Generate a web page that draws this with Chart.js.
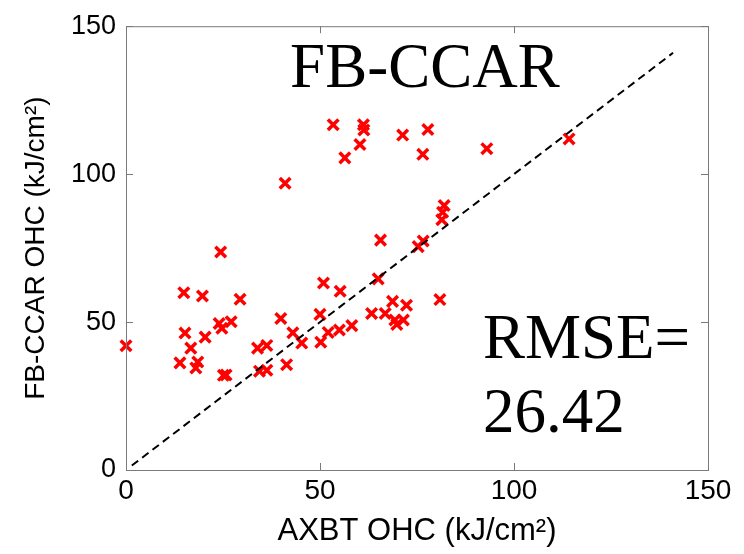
<!DOCTYPE html>
<html>
<head>
<meta charset="utf-8">
<script src="https://cdn.jsdelivr.net/npm/chart.js@4.4.1/dist/chart.umd.min.js"></script>
<style>
  body { margin: 0; background: #fff; }
  canvas { display: block; }
</style>
</head>
<body>
<canvas id="ohcChart" width="744" height="554"></canvas>
<script>
// AXBT OHC vs FB-CCAR OHC, kJ/cm^2
const axbtOhc = [53.4, 61.2, 61.3, 60.3, 56.4, 71.3, 77.8, 76.5, 93.0, 114.2,
    41.0, 82.0, 81.6, 81.4, 76.6, 75.3, 80.9, 0, 24.4, 14.9,
    19.7, 29.4, 15.2, 20.4, 16.7, 24.0, 24.7, 27.1, 13.9, 18.5,
    18.0, 25.1, 25.8, 33.9, 36.3, 34.4, 36.3, 39.9, 43.0, 45.3,
    41.4, 50.9, 55.2, 65.0, 50.0, 50.2, 52.1, 55.0, 58.2, 63.3,
    66.8, 68.7, 72.3, 69.3, 71.5, 69.8, 65.6];
const fbCcarOhc = [116.7, 116.7, 114.9, 110.0, 105.5, 113.2, 115.1, 106.7, 108.6, 111.9,
    96.9, 89.4, 87.1, 84.6, 77.4, 75.5, 57.6, 42.0, 73.7, 59.9,
    58.8, 57.7, 46.3, 44.9, 41.2, 49.5, 47.9, 50.1, 36.2, 36.5,
    34.5, 32.0, 32.1, 41.2, 42.1, 33.4, 33.7, 51.2, 46.4, 42.9,
    35.6, 63.2, 60.4, 64.6, 52.6, 43.2, 46.5, 47.3, 48.8, 52.9,
    52.9, 57.0, 55.7, 50.7, 50.7, 49.2, 77.7];
const oneToOne = [1.5, 141];
const xTicks = [0, 50, 100, 150];
const yTicks = [0, 50, 100, 150];

const points = axbtOhc.map((x, i) => ({ x: x, y: fbCcarOhc[i] }));
const diagonal = oneToOne.map(v => ({ x: v, y: v }));

// MATLAB-style box with inward ticks on all four sides
const boxPlugin = {
    id: 'boxPlugin',
    afterDatasetsDraw(chart) {
        const { ctx, chartArea: a, scales: { x, y } } = chart;
        ctx.save();
        ctx.strokeStyle = '#7a7a7a';
        ctx.lineWidth = 1;
        ctx.strokeRect(a.left + 0.5, a.top + 0.5, a.right - a.left, a.bottom - a.top);
        ctx.beginPath();
        xTicks.forEach(v => {
            const px = Math.round(x.getPixelForValue(v)) + 0.5;
            ctx.moveTo(px, a.bottom); ctx.lineTo(px, a.bottom - 7);
            ctx.moveTo(px, a.top); ctx.lineTo(px, a.top + 7);
        });
        yTicks.forEach(v => {
            const py = Math.round(y.getPixelForValue(v)) + 0.5;
            ctx.moveTo(a.left, py); ctx.lineTo(a.left + 7, py);
            ctx.moveTo(a.right, py); ctx.lineTo(a.right - 7, py);
        });
        ctx.stroke();
        ctx.restore();
    }
};

// big text labels inside the axes
const notes = [
    { text: 'FB-CCAR', x: 42.3, y: 129.3 },
    { text: 'RMSE=', x: 92.0, y: 37.8 },
    { text: '26.42', x: 92.0, y: 12.8 }
];
const notesPlugin = {
    id: 'notesPlugin',
    afterDraw(chart) {
        const { ctx, scales: { x, y } } = chart;
        ctx.save();
        ctx.fillStyle = '#000';
        ctx.font = '63px "Liberation Serif", serif';
        ctx.textAlign = 'left';
        ctx.textBaseline = 'alphabetic';
        notes.forEach(n => {
            ctx.fillText(n.text, x.getPixelForValue(n.x), y.getPixelForValue(n.y));
        });
        ctx.restore();
    }
};

function createOhcChart() {
    const ctx = document.getElementById('ohcChart').getContext('2d');
    new Chart(ctx, {
        type: 'scatter',
        data: {
            datasets: [{
                type: 'line',
                data: diagonal,
                borderColor: '#000',
                borderWidth: 2,
                borderDash: [8, 5],
                pointRadius: 0,
                fill: false,
                order: 0
            }, {
                data: points,
                pointStyle: 'crossRot',
                pointRadius: 7.5,
                pointBorderWidth: 3.5,
                borderColor: '#ff0000',
                backgroundColor: '#ff0000',
                clip: false,
                order: 1
            }]
        },
        options: {
            responsive: false,
            animation: false,
            layout: { padding: { left: 0, top: 21, right: 36, bottom: 0 } },
            plugins: {
                legend: { display: false },
                tooltip: { enabled: false }
            },
            scales: {
                x: {
                    type: 'linear',
                    min: 0,
                    max: 150,
                    afterBuildTicks: s => { s.ticks = xTicks.map(v => ({ value: v })); },
                    afterFit: s => { s.height = 84; },
                    grid: { display: false, drawTicks: false },
                    border: { display: false },
                    ticks: {
                        padding: 4,
                        color: '#000',
                        font: { family: '"Liberation Sans", Arial, sans-serif', size: 28 }
                    },
                    title: {
                        display: true,
                        text: 'AXBT OHC (kJ/cm²)',
                        color: '#000',
                        padding: { top: 0, bottom: 4 },
                        font: { family: '"Liberation Sans", Arial, sans-serif', size: 31 }
                    }
                },
                y: {
                    type: 'linear',
                    min: 0,
                    max: 150,
                    afterBuildTicks: s => { s.ticks = yTicks.map(v => ({ value: v })); },
                    afterFit: s => { s.width = 126; },
                    grid: { display: false, drawTicks: false },
                    border: { display: false },
                    ticks: {
                        padding: 10,
                        color: '#000',
                        font: { family: '"Liberation Sans", Arial, sans-serif', size: 27 }
                    },
                    title: {
                        display: true,
                        text: 'FB-CCAR OHC (kJ/cm²)',
                        color: '#000',
                        padding: { top: 19, bottom: 0 },
                        font: { family: '"Liberation Sans", Arial, sans-serif', size: 28 }
                    }
                }
            }
        },
        plugins: [boxPlugin, notesPlugin]
    });
}

document.addEventListener('DOMContentLoaded', createOhcChart);
</script>
</body>
</html>
